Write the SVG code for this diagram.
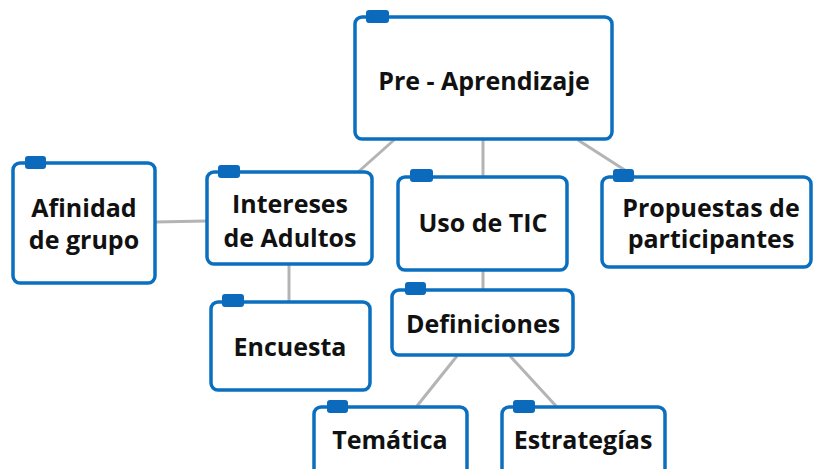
<svg xmlns="http://www.w3.org/2000/svg" width="813" height="469" viewBox="0 0 813 469">
<style>
.box{fill:#fff;stroke:#0b6fc0;stroke-width:3.5}
.tab{fill:#0b6abb}
.t{font-family:"Open Sans","Noto Sans","Liberation Sans",sans-serif;font-weight:700;font-size:25px;fill:#111;text-anchor:middle}
.c{stroke:#b4b4b4;stroke-width:3;fill:none}
</style>
<rect width="813" height="469" fill="#fff"/>
<g id="connectors">
<line class="c" x1="394" y1="140" x2="357" y2="173"/>
<line class="c" x1="483" y1="140" x2="483" y2="177"/>
<line class="c" x1="578" y1="140" x2="634" y2="176"/>
<line class="c" x1="155" y1="222" x2="207" y2="221"/>
<line class="c" x1="289" y1="265" x2="289" y2="302"/>
<line class="c" x1="483" y1="270" x2="483" y2="291"/>
<line class="c" x1="457" y1="356" x2="417" y2="406"/>
<line class="c" x1="510" y1="356" x2="556" y2="406"/>
</g>
<g id="pre">
<rect class="box" x="355" y="17" width="257" height="122" rx="7"/>
<rect class="tab" x="366" y="10" width="23" height="13" rx="3"/>
<text class="t" x="484" y="90" font-size="27">Pre - Aprendizaje</text>
</g>
<g id="afinidad">
<rect class="box" x="13" y="163" width="142" height="120" rx="7"/>
<rect class="tab" x="25" y="156" width="21" height="13" rx="3"/>
<text class="t" x="84" y="217">Afinidad</text>
<text class="t" x="84" y="249">de grupo</text>
</g>
<g id="intereses">
<rect class="box" x="207" y="172" width="165" height="92" rx="7"/>
<rect class="tab" x="218" y="165" width="22" height="13" rx="3"/>
<text class="t" x="290" y="213">Intereses</text>
<text class="t" x="290" y="247">de Adultos</text>
</g>
<g id="encuesta">
<rect class="box" x="211" y="302" width="159" height="88" rx="7"/>
<rect class="tab" x="222" y="294" width="22" height="13" rx="3"/>
<text class="t" x="290" y="356">Encuesta</text>
</g>
<g id="uso">
<rect class="box" x="398" y="177" width="169" height="93" rx="7"/>
<rect class="tab" x="410" y="169" width="23" height="13" rx="3"/>
<text class="t" x="483" y="232">Uso de TIC</text>
</g>
<g id="propuestas">
<rect class="box" x="602" y="177" width="209" height="90" rx="7"/>
<rect class="tab" x="613" y="169" width="21" height="13" rx="3"/>
<text class="t" x="711" y="217">Propuestas de</text>
<text class="t" x="711" y="248">participantes</text>
</g>
<g id="definiciones">
<rect class="box" x="392" y="290" width="181" height="65" rx="7"/>
<rect class="tab" x="405" y="282" width="21" height="13" rx="3"/>
<text class="t" x="483" y="333">Definiciones</text>
</g>
<g id="tematica">
<rect class="box" x="314" y="407" width="153" height="80" rx="7"/>
<rect class="tab" x="327" y="400" width="21" height="13" rx="3"/>
<text class="t" x="390" y="449">Temática</text>
</g>
<g id="estrategias">
<rect class="box" x="502" y="407" width="163" height="80" rx="7"/>
<rect class="tab" x="513" y="400" width="22" height="13" rx="3"/>
<text class="t" x="583" y="449">Estrategías</text>
</g>
</svg>
